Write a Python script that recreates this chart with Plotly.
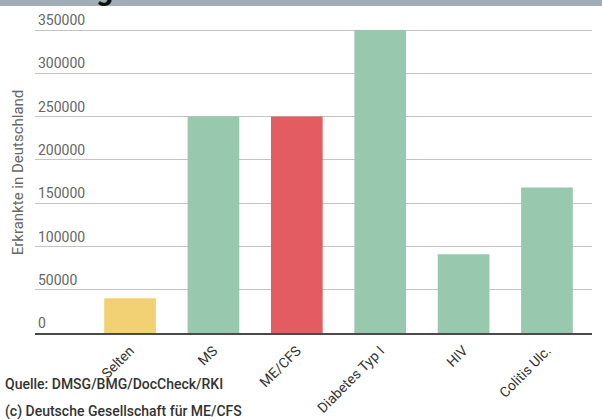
import plotly.graph_objects as go

categories = ["Selten", "MS", "ME/CFS", "Diabetes Typ I", "HIV", "Colitis Ulc."]
values = [40000, 250000, 250000, 350000, 91000, 168000]
colors = ["#f2d174", "#98c8ae", "#e25c61", "#98c8ae", "#98c8ae", "#98c8ae"]
y_ticks = [0, 50000, 100000, 150000, 200000, 250000, 300000, 350000]
y_title = "Erkrankte in Deutschland"
source_text = "Quelle: DMSG/BMG/DocCheck/RKI"
copyright_text = "(c) Deutsche Gesellschaft für ME/CFS"

fig = go.Figure(go.Bar(
    x=categories, y=values, marker_color=colors, width=0.62,
    marker_line_width=0, hoverinfo="skip",
))

W, H = 602, 420
ml, mr, mt, mb = 35, 10, 12, 87
pw = W - ml - mr
ph = H - mt - mb
ytop = 350000 * ph / 303.0

def py(pix):
    """paper y for a pixel row from the top"""
    return (mt + ph - pix) / ph

fig.update_layout(
    width=W, height=H,
    margin=dict(l=ml, r=mr, t=mt, b=mb, autoexpand=False),
    paper_bgcolor="white", plot_bgcolor="white",
    font=dict(family="Roboto", size=14, color="#555"),
    showlegend=False,
    xaxis=dict(
        range=[-1.14, 5.54], tickangle=-45, showgrid=False, automargin=False,
        showline=True, linecolor="#4a4a4a", linewidth=2,
        tickfont=dict(size=14, color="#333"), ticks="", ticklabelstandoff=2,
    ),
    yaxis=dict(
        range=[0, ytop], tickvals=y_ticks, automargin=False,
        ticktext=[str(v) for v in y_ticks],
        ticklabelposition="inside top",
        showgrid=True, gridcolor="#c4c4c4", gridwidth=1,
        zeroline=False, showline=False,
        tickfont=dict(size=14, color="#666"),
        title=dict(text=y_title, font=dict(size=15, color="#666"), standoff=10),
    ),
    shapes=[dict(type="rect", xref="paper", yref="paper",
                 x0=-ml / pw, x1=1 + mr / pw,
                 y0=py(6), y1=py(-5),
                 fillcolor="#a0adb7", line_width=0, layer="above")],
    annotations=[
        dict(text="g", xref="paper", yref="paper", x=(104 - ml) / pw,
             y=py(-10), yanchor="middle", xanchor="center",
             showarrow=False, font=dict(size=30, color="#111", family="Roboto", weight="bold")),
        dict(text=source_text, xref="paper", yref="paper",
             x=(3 - ml) / pw, y=py(384), xanchor="left", yanchor="middle",
             showarrow=False, font=dict(size=14, color="#333", weight=500)),
        dict(text=copyright_text, xref="paper", yref="paper",
             x=(3 - ml) / pw, y=py(411), xanchor="left", yanchor="middle",
             showarrow=False, font=dict(size=14, color="#333", weight=500)),
    ],
)

fig.write_html("out.html")
